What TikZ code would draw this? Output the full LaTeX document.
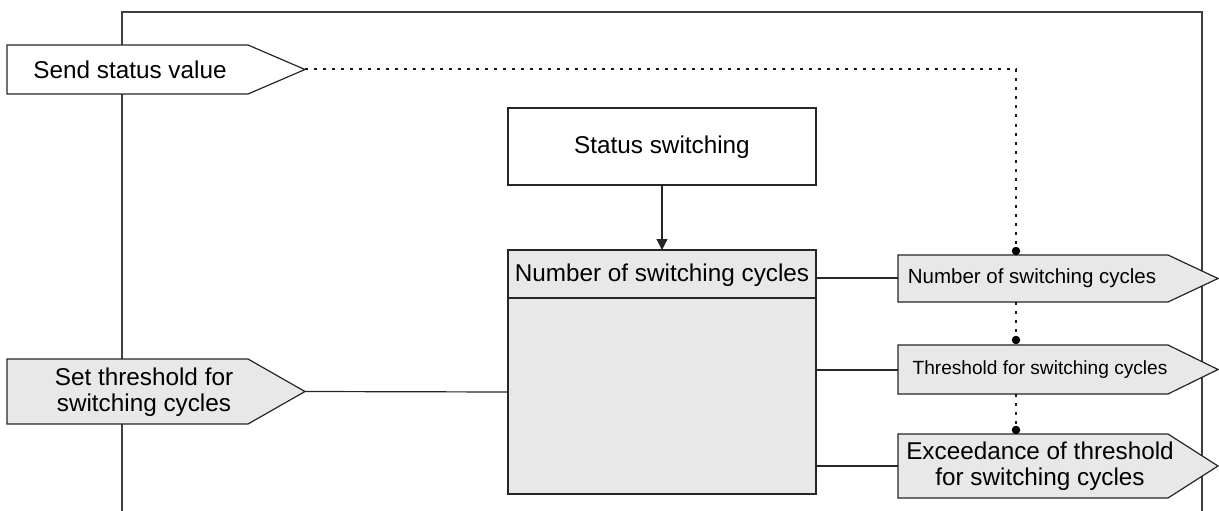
\documentclass[tikz,border=0pt]{standalone}
\usepackage{fontspec}
\setmainfont{Liberation Sans}
\usetikzlibrary{arrows.meta}

% flag-shaped port: rectangle with a pointed right end
% #1 style, #2 left x, #3 top y, #4 right x of body, #5 bottom y, #6 tip x
\newcommand{\portflag}[6]{%
  \draw[#1] (#2,#3) -- (#4,#3) -- (#6,{(#3+#5)/2}) -- (#4,#5) -- (#2,#5) -- cycle;}

\begin{document}
\begin{tikzpicture}[x=1pt,y=-1pt,
  ln/.style={line width=1.2pt, draw=black!85},
  frame/.style={line width=1.3pt, draw=black!75},
  wflag/.style={ln, fill=white},
  gflag/.style={ln, fill=gray!18},
  txt/.style={align=center, inner sep=0pt, font=\fontsize{24.3}{25.5}\selectfont},
  smalltxt/.style={align=center, inner sep=0pt, font=\fontsize{20.5}{22}\selectfont},
  tinytxt/.style={align=center, inner sep=0pt, font=\fontsize{19.1}{21}\selectfont},
  dotline/.style={line width=2pt, dash pattern=on 3pt off 6pt, line cap=butt, draw=black!90},
  joint/.style={circle, fill=black, inner sep=0pt, minimum size=8.5pt},
  flow/.style={ln, -{Triangle[length=11pt,width=11pt]}}
]
\useasboundingbox (0,0) rectangle (1219,511);

% open frame of the function block
\draw[frame] (122,511) -- (122,12) -- (1202,12) -- (1202,511);

% input: send status value
\portflag{wflag}{7}{45}{248}{94}{305}
\node[txt] (send) at (130,70) {Send status value};
\coordinate (sendtip) at (305,69.5);

% input: set threshold
\portflag{gflag}{7}{359}{248}{424}{305}
\node[txt] (setthr) at (144,392) {Set threshold for\\switching cycles};
\coordinate (setthrtip) at (305,391.5);

% status switching object
\draw[ln, fill=white] (508,108) rectangle (816,185);
\node[txt] (status) at (662,147) {Status switching};
\coordinate (statusbot) at (662,185);

% counter block
\draw[ln, fill=gray!18] (508,250) rectangle (816,494);
\draw[ln] (508,298) -- (816,298);
\node[txt] (counter) at (662,275) {Number of switching cycles};
\coordinate (countertop) at (662,250);
\coordinate (cntA) at (816,278);
\coordinate (cntB) at (816,370);
\coordinate (cntC) at (816,466);
\coordinate (cntIn) at (508,392);

% outputs
\portflag{gflag}{898}{255}{1168}{302}{1218}
\node[smalltxt] (outnum) at (1032,278) {Number of switching cycles};
\coordinate (outnumL) at (898,278);

\portflag{gflag}{898}{345}{1168}{394}{1218}
\node[tinytxt] (outthr) at (1040,369.5) {Threshold for switching cycles};
\coordinate (outthrL) at (898,370);

\portflag{gflag}{898}{434}{1168}{498}{1218}
\node[txt] (outexc) at (1040,466) {Exceedance of threshold\\for switching cycles};
\coordinate (outexcL) at (898,466);

% signal connections
\draw[flow] (statusbot) -- (countertop);
\draw[ln] (setthrtip) -- (cntIn);
\draw[ln] (cntA) -- (outnumL);
\draw[ln] (cntB) -- (outthrL);
\draw[ln] (cntC) -- (outexcL);

% status value request links
\coordinate (bend) at (1016,69.5);
\coordinate (d1) at (1016,251);
\coordinate (d1b) at (1016,302);
\coordinate (d2) at (1016,340);
\coordinate (d2b) at (1016,394);
\coordinate (d3) at (1016,430);
\draw[dotline] (sendtip) -- (bend) -- (d1);
\draw[dotline] (d1b) -- (d2);
\draw[dotline] (d2b) -- (d3);
\node[joint] at (d1) {};
\node[joint] at (d2) {};
\node[joint] at (d3) {};
\end{tikzpicture}
\end{document}
